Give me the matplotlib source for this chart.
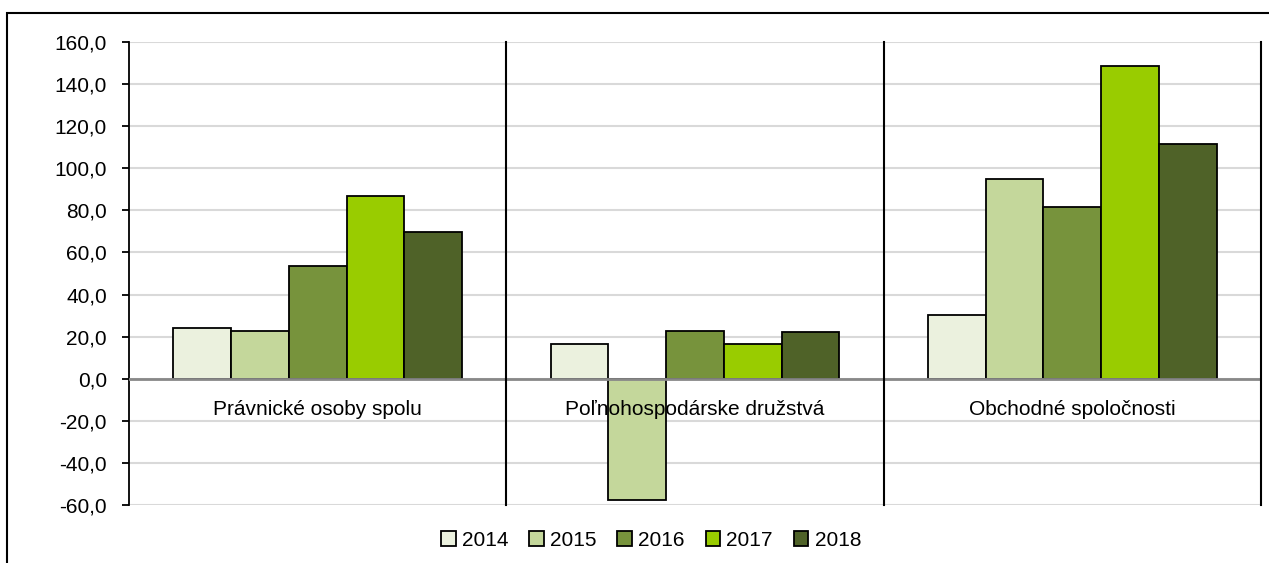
import matplotlib.pyplot as plt
from matplotlib.patches import Rectangle

# udaje
kategorie = ['Právnické osoby spolu', 'Poľnohospodárske družstvá', 'Obchodné spoločnosti']
roky = ['2014', '2015', '2016', '2017', '2018']
hodnoty = {
    '2014': [23.9, 16.6, 30.1],
    '2015': [22.9, -57.8, 95.1],
    '2016': [53.7, 22.8, 81.8],
    '2017': [86.6, 16.6, 148.8],
    '2018': [69.5, 22.0, 111.6],
}
farby = ['#EBF1DE', '#C4D79B', '#77933C', '#99CC00', '#4F6228']
y_ticky = list(range(-60, 161, 20))

plt.rcParams['font.family'] = ['Liberation Sans', 'DejaVu Sans']

fig = plt.figure(figsize=(12.69, 5.63), dpi=100)
ax = fig.add_axes([129/1269, 1 - 505/563, (1261 - 129)/1269, (505 - 42)/563])

# ramik okolo celeho grafu
fig.patches.append(Rectangle((7/1269, -0.05), 1.2, (563 - 13)/563 + 0.05,
                             transform=fig.transFigure, fill=False,
                             edgecolor='black', linewidth=1.5))

sirka = 0.153
x = list(range(len(kategorie)))
for i, rok in enumerate(roky):
    pos = [xi + (i - 2) * sirka for xi in x]
    ax.bar(pos, hodnoty[rok], width=sirka, color=farby[i], edgecolor='black',
           linewidth=1.3, label=rok, zorder=3)

ax.set_xlim(-0.5, 2.5)
ax.set_ylim(-60, 160)
ax.set_yticks(y_ticky)
ax.set_yticklabels([f'{v:.1f}'.replace('.', ',') for v in y_ticky], fontsize=15)
ax.yaxis.grid(True, color='#d9d9d9', linewidth=1.5, zorder=0)
ax.set_xticks([])
ax.tick_params(axis='y', length=5, width=1.3, pad=11)

for s in ['top', 'right', 'bottom']:
    ax.spines[s].set_visible(False)
ax.spines['left'].set_linewidth(1.3)

ax.axhline(0, color='#888888', linewidth=2, zorder=4)
for xs in [0.5, 1.5, 2.5]:
    ax.axvline(xs, color='black', linewidth=1.5, zorder=4, clip_on=False)

# popisy kategorii pod nulovou osou
for xi, k in zip(x, kategorie):
    ax.annotate(k, xy=(xi, 0), xytext=(0, -31), textcoords='offset pixels',
                ha='center', va='center', fontsize=15, zorder=5)

ax.legend(loc='center', bbox_to_anchor=(651/1269, 1 - 540/563),
          bbox_transform=fig.transFigure, ncol=5, frameon=False, fontsize=15,
          handlelength=0.7, handleheight=0.7, handletextpad=0.3, columnspacing=1.0)

fig.savefig('out.png', dpi=100)
